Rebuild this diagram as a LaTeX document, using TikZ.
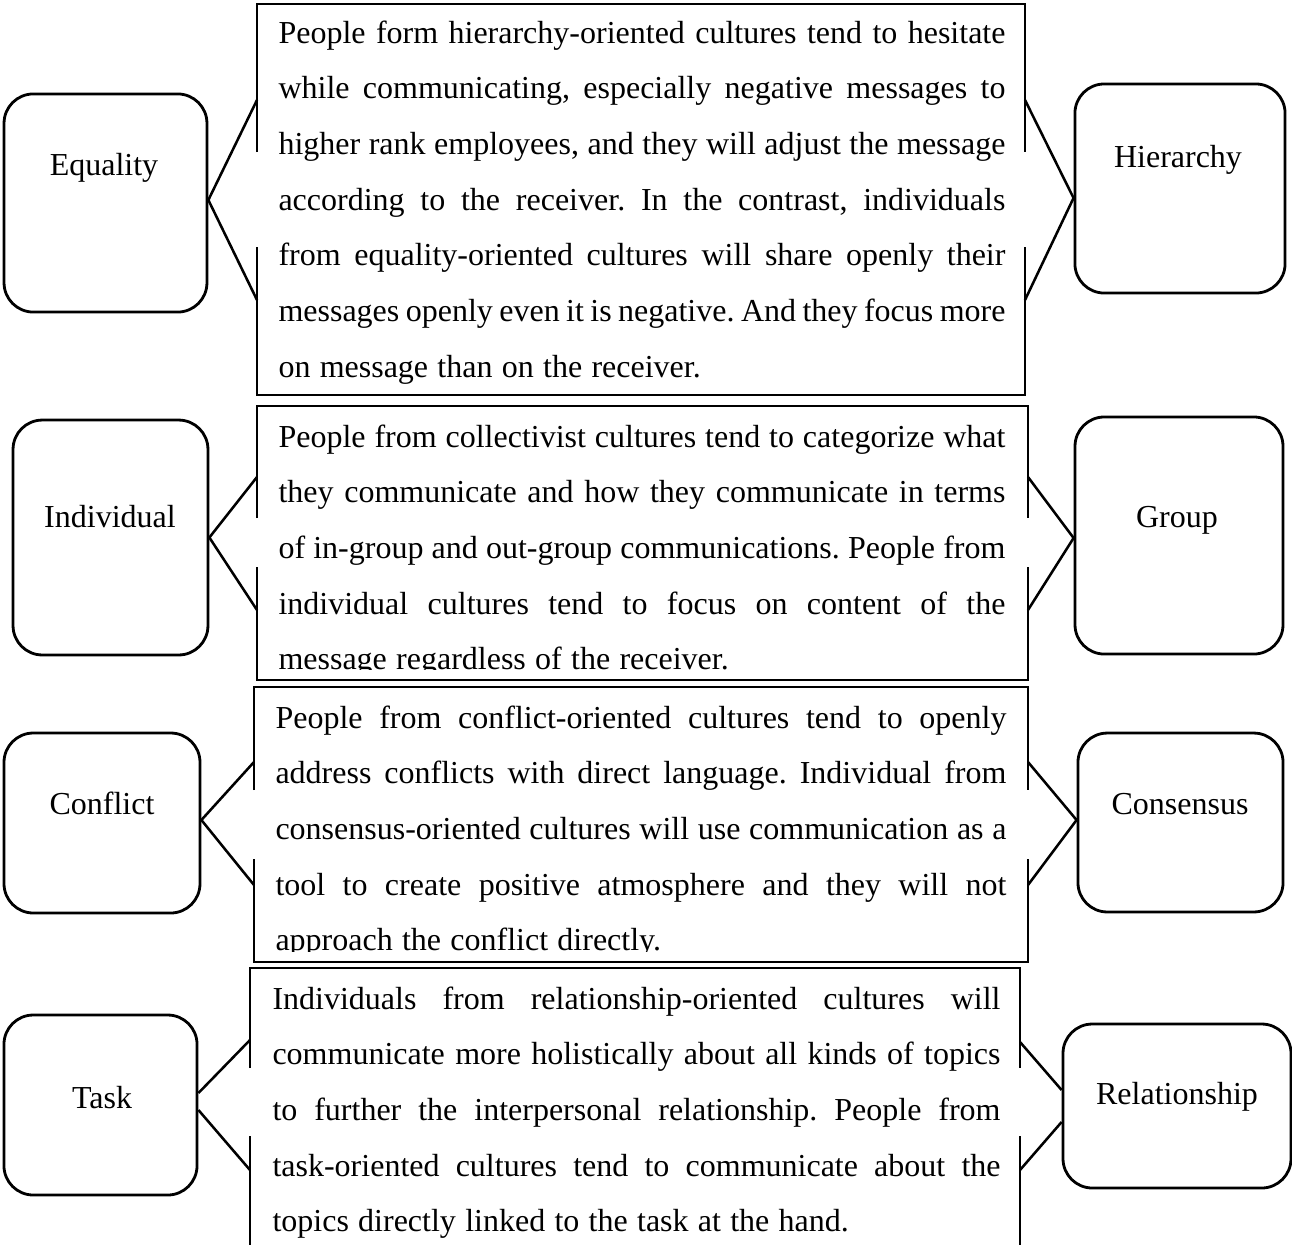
\documentclass[tikz,border=0pt]{standalone}
\usepackage{fontspec}
\setmainfont{Liberation Serif}
\usetikzlibrary{calc}
\frenchspacing
\newlength{\pw}
% one justified line of a paragraph
\newcommand{\jl}[1]{\makebox[\pw][s]{#1}\\}
% a paragraph of fixed width, hung from its first baseline
\newcommand{\panel}[2]{\setlength{\pw}{#1}%
  \parbox[t]{\pw}{\spaceskip=0.29em plus 0.6em minus 0.16em\relax #2}}
\begin{document}
\begin{tikzpicture}[x=0.375pt,y=-0.375pt,
  txt/.style={font=\fontsize{12}{20.89}\selectfont, inner sep=0pt},
  para/.style={font=\fontsize{12}{20.89}\selectfont, inner sep=0pt, anchor=base west},
  rbox/.style={draw, line width=1.05pt, rounded corners=11pt, inner sep=0pt},
  lbl/.style={txt, text height=7.9pt, text depth=2.6pt},
  frame/.style={line width=1.1pt},
  link/.style={line width=0.95pt}
]
\useasboundingbox (0,0) rectangle (1292,1244);

% ---------- side boxes ----------
\node[rbox, minimum width=76.1pt, minimum height=81.8pt] (eq) at (105.5,203) {};
\node[lbl] (eqt) at (104,168) {Equality};
\node[rbox, minimum width=78.8pt, minimum height=78.4pt] (hi) at (1180,188.5) {};
\node[lbl] (hit) at (1178,160) {Hierarchy};

\node[rbox, minimum width=73.1pt, minimum height=88.1pt] (in) at (110.5,537.5) {};
\node[lbl] (int) at (110,520) {Individual};
\node[rbox, minimum width=78pt, minimum height=88.9pt] (gr) at (1179,535.5) {};
\node[lbl] (grt) at (1177,520) {Group};

\node[rbox, minimum width=73.5pt, minimum height=67.5pt] (co) at (102,823) {};
\node[lbl] (cot) at (102,807) {Conflict};
\node[rbox, minimum width=76.9pt, minimum height=67.1pt] (cs) at (1180.5,822.5) {};
\node[lbl] (cst) at (1180,807) {Consensus};

\node[rbox, minimum width=72.4pt, minimum height=67.5pt] (ta) at (100.5,1105) {};
\node[lbl] (tat) at (102,1101) {Task};
\node[rbox, minimum width=85.5pt, minimum height=61.5pt] (re) at (1177,1106) {};
\node[lbl] (ret) at (1177,1097) {Relationship};

% ---------- text panels (the lowest line is trimmed by the panel) ----------
\begin{scope}
\clip (257,4) rectangle (1025,395);
\node[para] (p1) at (278,43) {\panel{272.6pt}{%
\jl{People form hierarchy-oriented cultures tend to hesitate}
\jl{while communicating, especially negative messages to}
\jl{higher rank employees, and they will adjust the message}
\jl{according to the receiver. In the contrast, individuals}
\jl{from equality-oriented cultures will share openly their}
\jl{messages openly even it is negative. And they focus more}
on message than on the receiver.}};
\end{scope}

\begin{scope}
\clip (257,406) rectangle (1028,669);
\node[para] (p2) at (278,447) {\panel{272.6pt}{%
\jl{People from collectivist cultures tend to categorize what}
\jl{they communicate and how they communicate in terms}
\jl{of in-group and out-group communications. People from}
\jl{individual cultures tend to focus on content of the}
message regardless of the receiver.}};
\end{scope}

\begin{scope}
\clip (254,687) rectangle (1028,951);
\node[para] (p3) at (275,728) {\panel{274.1pt}{%
\jl{People from conflict-oriented cultures tend to openly}
\jl{address conflicts with direct language. Individual from}
\jl{consensus-oriented cultures will use communication as a}
\jl{tool to create positive atmosphere and they will not}
approach the conflict directly.}};
\end{scope}

\begin{scope}
\clip (250,968) rectangle (1020,1244);
\node[para] (p4) at (272,1009) {\panel{273pt}{%
\jl{Individuals from relationship-oriented cultures will}
\jl{communicate more holistically about all kinds of topics}
\jl{to further the interpersonal relationship. People from}
\jl{task-oriented cultures tend to communicate about the}
topics directly linked to the task at the hand.}};
\end{scope}

% panel frames, open where the text runs across them
\draw[frame] (257,152) -- (257,4) -- (1025,4) -- (1025,152)
             (1025,247) -- (1025,395) -- (257,395) -- (257,247);
\draw[frame] (257,518) -- (257,406) -- (1028,406) -- (1028,518)
             (1028,567) -- (1028,680) -- (257,680) -- (257,567);
\draw[frame] (254,790) -- (254,687) -- (1028,687) -- (1028,790)
             (1028,859) -- (1028,962) -- (254,962) -- (254,859);
\draw[frame] (250,1068) -- (250,968) -- (1020,968) -- (1020,1068)
             (1020,1136) -- (1020,1250)
             (250,1136) -- (250,1250);

% attachment points on the panel frames
\coordinate (p1la) at (257,100);  \coordinate (p1lb) at (257,300);
\coordinate (p1ra) at (1025,100); \coordinate (p1rb) at (1025,300);
\coordinate (p2la) at (257,477);  \coordinate (p2lb) at (257,610);
\coordinate (p2ra) at (1028,477); \coordinate (p2rb) at (1028,610);
\coordinate (p3la) at (254,762);  \coordinate (p3lb) at (254,885);
\coordinate (p3ra) at (1028,762); \coordinate (p3rb) at (1028,885);
\coordinate (p4la) at (250,1040); \coordinate (p4lb) at (250,1170);
\coordinate (p4ra) at (1020,1042); \coordinate (p4rb) at (1020,1170);

% ---------- connectors ----------
\draw[link] (p1la) -- ($(eq.east)+(0,-3)$) -- (p1lb);
\draw[link] (p1ra) -- ($(hi.west)+(0,9.5)$) -- (p1rb);
\draw[link] (p2la) -- (in.east) -- (p2lb);
\draw[link] (p2ra) -- ($(gr.west)+(0,2.5)$) -- (p2rb);
\draw[link] (p3la) -- ($(co.east)+(0,-3)$) -- (p3lb);
\draw[link] (p3ra) -- ($(cs.west)+(0,-2.5)$) -- (p3rb);
\draw[link] (p4la) -- ($(ta.east)+(0,-12)$);
\draw[link] ($(ta.east)+(0,5)$) -- (p4lb);
\draw[link] (p4ra) -- ($(re.west)+(0,-16)$);
\draw[link] ($(re.west)+(0,16)$) -- (p4rb);
\end{tikzpicture}
\end{document}
